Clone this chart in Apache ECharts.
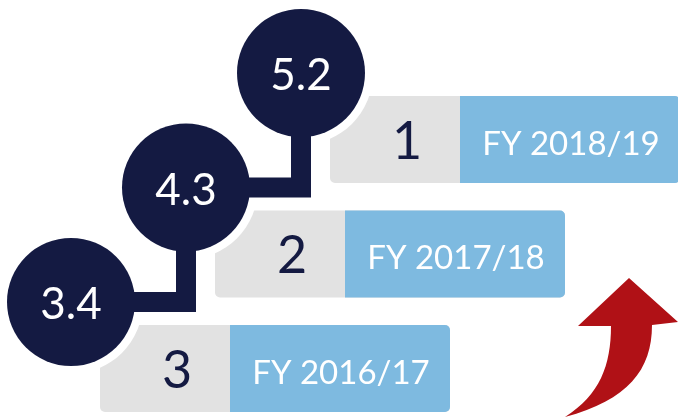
<!DOCTYPE html>
<html>
<head>
<meta charset="utf-8">
<script src="https://cdn.jsdelivr.net/npm/echarts@6/dist/echarts.min.js"></script>
<style>html,body{margin:0;padding:0;background:#fff;}#main{width:678px;height:418px;}</style>
</head>
<body>
<div id="main"></div>
<script>
const values = [3.4, 4.3, 5.2];
const ranks = ['3', '2', '1'];
const years = ['FY 2016/17', 'FY 2017/18', 'FY 2018/19'];
const steps = [0, 1, 2];

const NAVY = '#141A42', GRAY = '#E2E2E2', BLUE = '#7EBAE0', RED = '#B01116';
const FONT = 'Lato, "Open Sans", sans-serif';

const chart = echarts.init(document.getElementById('main'), null, {renderer: 'canvas'});

function renderItem(params, api) {
  const i = params.dataIndex;
  const s = api.value(0);
  const c = api.coord([s, s]);
  const ch = [];
  ch.push({type: 'rect', z2: 0, shape: {x: c[0] + 29, y: c[1] + 23, width: 350, height: 87, r: 5}, style: {fill: GRAY}});
  ch.push({type: 'rect', z2: 1, shape: {x: c[0] + 159, y: c[1] + 23, width: 220, height: 87, r: [0, 5, 5, 0]}, style: {fill: BLUE}});
  ch.push({type: 'text', z2: 2, style: {text: ranks[i], x: c[0] + 106, y: c[1] + 69, align: 'center', verticalAlign: 'middle', fontSize: 52, fontFamily: FONT, fill: NAVY}});
  ch.push({type: 'text', z2: 2, style: {text: years[i], x: c[0] + 270, y: c[1] + 71, align: 'center', verticalAlign: 'middle', fontSize: 33, fontFamily: FONT, fill: '#fff'}});
  ch.push({type: 'circle', z2: 3, shape: {cx: c[0], cy: c[1], r: 72}, style: {fill: '#fff'}});
  ch.push({type: 'circle', z2: 4, shape: {cx: c[0], cy: c[1], r: 64}, style: {fill: NAVY}});
  if (i < steps.length - 1) {
    const mid = api.coord([steps[i + 1], s]);
    const nxt = api.coord([steps[i + 1], steps[i + 1]]);
    ch.push({type: 'polyline', z2: 5, shape: {points: [c, mid, nxt]}, style: {stroke: NAVY, lineWidth: 20, lineJoin: 'miter', fill: null}});
  }
  ch.push({type: 'text', z2: 6, style: {text: String(values[i]), x: c[0], y: c[1] + 3, align: 'center', verticalAlign: 'middle', fontSize: 44, fontFamily: FONT, fill: '#fff'}});
  return {type: 'group', children: ch};
}

function renderArrow(params, api) {
  return {
    type: 'path',
    shape: {pathData: 'M629 278 L678 322 L652 325 C652 370 628 400 565 417 C600 395 611 365 611 326 L578 326 Z', x: 565, y: 278, width: 113, height: 139},
    style: {fill: RED}
  };
}

chart.setOption({
  animation: false,
  grid: {left: 71, right: 377, top: 73, bottom: 116},
  xAxis: {type: 'value', min: 0, max: 2, show: false},
  yAxis: {type: 'value', min: 0, max: 2, show: false},
  series: [{
    type: 'custom',
    renderItem: renderItem,
    data: steps.map(s => [s]),
    clip: false
  }, {
    type: 'custom',
    renderItem: renderArrow,
    data: [[0]],
    clip: false,
    silent: true
  }]
});
</script>
</body>
</html>
